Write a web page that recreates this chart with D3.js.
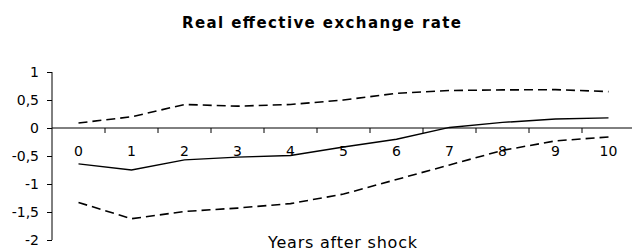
<!DOCTYPE html>
<html>
<head>
<meta charset="utf-8">
<script src="https://cdn.jsdelivr.net/npm/d3@7"></script>
<style>
  body { margin: 0; background: #fff; }
  text { font-family: "DejaVu Sans", Verdana, sans-serif; fill: #000; }
</style>
</head>
<body>
<div id="chart"></div>
<script>
// Data
const years = [0, 1, 2, 3, 4, 5, 6, 7, 8, 9, 10];
const central = [-0.64, -0.75, -0.57, -0.52, -0.49, -0.34, -0.20, 0.01, 0.10, 0.16, 0.18];
const upper = [0.09, 0.20, 0.42, 0.39, 0.42, 0.50, 0.62, 0.67, 0.68, 0.685, 0.65];
const lower = [-1.33, -1.62, -1.49, -1.43, -1.35, -1.18, -0.92, -0.66, -0.40, -0.23, -0.16];
const yTicks = [1, 0.5, 0, -0.5, -1, -1.5, -2];

const W = 632, H = 251;
const plotLeft = 52, plotTop = 72, plotH = 168, plotW = 583;

const svg = d3.select("#chart").append("svg")
    .attr("width", W)
    .attr("height", H);

const x = d3.scaleBand()
    .domain(years)
    .range([plotLeft, plotLeft + plotW]);

const y = d3.scaleLinear()
    .domain([-2, 1])
    .range([plotTop + plotH, plotTop]);

// title
svg.append("text")
    .attr("x", 182)
    .attr("y", 28)
    .attr("textLength", 279)
    .attr("lengthAdjust", "spacing")
    .style("font-size", "15px")
    .style("font-weight", "bold")
    .text("Real effective exchange rate");

// y axis
const yAxis = svg.append("g")
    .attr("transform", `translate(${plotLeft},0)`)
    .call(d3.axisLeft(y).tickValues(yTicks).tickSize(5).tickPadding(8)
        .tickFormat(d => String(d).replace(".", ",")));
yAxis.select(".domain").attr("d", `M0,${y(1)}V${y(-2)}`);
yAxis.selectAll("text").style("font-size", "14px").style("font-family", "DejaVu Sans, Verdana, sans-serif");

// x axis at zero, ticks between categories
const xg = svg.append("g").attr("transform", `translate(0,${y(0)})`);
xg.append("line")
    .attr("x1", plotLeft).attr("x2", W)
    .attr("stroke", "#000");
xg.selectAll(".tk")
    .data(years)
    .join("line")
    .attr("class", "tk")
    .attr("x1", d => x(d) + x.bandwidth())
    .attr("x2", d => x(d) + x.bandwidth())
    .attr("y1", 0).attr("y2", 5)
    .attr("stroke", "#000");
xg.selectAll(".lbl")
    .data(years)
    .join("text")
    .attr("class", "lbl")
    .attr("x", d => x(d) + x.bandwidth() / 2)
    .attr("y", 28)
    .attr("text-anchor", "middle")
    .style("font-size", "14px")
    .text(d => d);

// x label
svg.append("text")
    .attr("x", 268)
    .attr("y", 248)
    .attr("textLength", 149)
    .attr("lengthAdjust", "spacing")
    .style("font-size", "16px")
    .text("Years after shock");

const line = d3.line()
    .x((d, i) => x(years[i]) + x.bandwidth() / 2)
    .y(d => y(d));

svg.append("path")
    .datum(upper)
    .attr("d", line)
    .attr("fill", "none")
    .attr("stroke", "#000")
    .attr("stroke-width", 1.6)
    .attr("stroke-dasharray", "9,5");

svg.append("path")
    .datum(lower)
    .attr("d", line)
    .attr("fill", "none")
    .attr("stroke", "#000")
    .attr("stroke-width", 1.6)
    .attr("stroke-dasharray", "9,5");

svg.append("path")
    .datum(central)
    .attr("d", line)
    .attr("fill", "none")
    .attr("stroke", "#000")
    .attr("stroke-width", 1.4);
</script>
</body>
</html>
